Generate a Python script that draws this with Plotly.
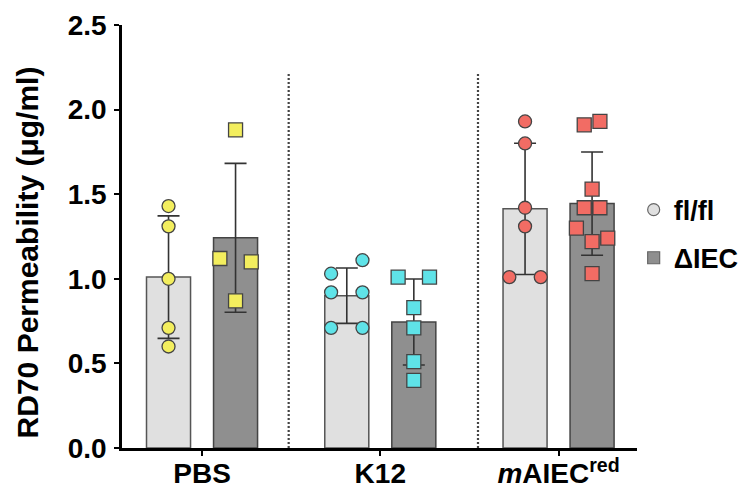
import numpy as np
import plotly.graph_objects as go

# ---------------- data ----------------
categories = ["PBS", "K12", "<i>m</i>AIEC<sup>red</sup>"]
series_names = ["fl/fl", "ΔIEC"]
y_title = "RD70 Permeability (μg/ml)"

pbs_flfl = [1.43, 1.31, 1.00, 0.71, 0.60]
pbs_diec = [1.88, 1.12, 1.10, 0.87]
k12_flfl = [1.11, 1.03, 0.92, 0.92, 0.71, 0.71]
k12_diec = [1.01, 1.01, 0.83, 0.71, 0.51, 0.40]
maiec_flfl = [1.93, 1.80, 1.42, 1.31, 1.01, 1.01]
maiec_diec = [1.91, 1.93, 1.53, 1.42, 1.42, 1.30, 1.24, 1.22, 1.03]

# horizontal scatter columns of each point (in marker half-widths)
pbs_flfl_col = [0, 0, 0, 0, 0]
pbs_diec_col = [0, -2, 2, 0]
k12_flfl_col = [2, -2, -2, 2, -2, 2]
k12_diec_col = [-2, 2, 0, 0, 0, 0]
maiec_flfl_col = [0, 0, 0, 0, -2, 2]
maiec_diec_col = [-1, 1, 0, -1, 1, -2, 2, 0, 0]

y_ticks = [0.0, 0.5, 1.0, 1.5, 2.0, 2.5]

# ---------------- style ----------------
FONT = "Liberation Sans, Arial, sans-serif"
OFF = 0.188      # half distance between paired bars (category units)
BW = 0.247       # bar width
STEP = 0.044     # jitter step
bar_fill = ["#e0e0e0", "#8f8f8f"]
bar_line = ["#555555", "#444444"]
point_colors = ["#f3ee5e", "#5fe3e8", "#f26c64"]
symbols = ["circle", "square"]

groups = [
    (pbs_flfl, pbs_diec, pbs_flfl_col, pbs_diec_col),
    (k12_flfl, k12_diec, k12_flfl_col, k12_diec_col),
    (maiec_flfl, maiec_diec, maiec_flfl_col, maiec_diec_col),
]

fig = go.Figure()

for s in range(2):
    xs, means, sds = [], [], []
    for gi, g in enumerate(groups):
        vals = np.array(g[s])
        xs.append(gi + (2 * s - 1) * OFF)
        means.append(vals.mean())
        sds.append(vals.std(ddof=1))
    fig.add_trace(go.Bar(
        x=xs, y=means, width=BW,
        marker=dict(color=bar_fill[s], line=dict(color=bar_line[s], width=1.5)),
        error_y=dict(type="data", array=sds, visible=True, color="#333333",
                     thickness=1.6, width=11),
        showlegend=False, hoverinfo="skip",
    ))

for gi, g in enumerate(groups):
    for s in range(2):
        vals = g[s]
        cols = g[2 + s]
        x = [gi + (2 * s - 1) * OFF + c * STEP for c in cols]
        fig.add_trace(go.Scatter(
            x=x, y=vals, mode="markers",
            marker=dict(symbol=symbols[s], size=13 if s == 0 else 14,
                        color=point_colors[gi],
                        line=dict(color="#444444", width=1.3)),
            showlegend=False,
        ))

# legend entries
for s in range(2):
    fig.add_trace(go.Scatter(
        x=[None], y=[None], mode="markers", name=series_names[s],
        legendgroup=series_names[s],
        marker=dict(symbol=symbols[s], size=12, color=bar_fill[s],
                    line=dict(color="#666666", width=1.2)),
    ))

# dotted separators
for xs in [0.486, 1.548]:
    fig.add_shape(type="line", x0=xs, x1=xs, y0=0, y1=2.22, xref="x", yref="y",
                  line=dict(color="#444444", width=2.2, dash="2px,2px"), layer="below")

# y-axis title
fig.add_annotation(text=y_title, textangle=-90, xref="paper", yref="paper",
                   x=-0.184, y=0.463, xanchor="center", yanchor="middle",
                   showarrow=False,
                   font=dict(size=30, family=FONT, weight="bold", color="black"))

fig.update_layout(
    width=742, height=496,
    margin=dict(l=122, r=105, t=25, b=48, autoexpand=False),
    plot_bgcolor="white", paper_bgcolor="white",
    font=dict(family=FONT, size=27, color="black", weight="bold"),
    barmode="overlay",
    legend=dict(x=0.854, y=0.528, xref="container", yref="container",
                xanchor="left", yanchor="middle",
                traceorder="grouped", tracegroupgap=10,
                font=dict(size=27, family=FONT, weight="bold"),
                bgcolor="rgba(0,0,0,0)"),
)
fig.update_xaxes(
    range=[-0.449, 2.44], tickvals=[0, 1, 2], ticktext=categories,
    showline=True, linecolor="black", linewidth=2.5,
    ticks="outside", ticklen=5, tickwidth=2, tickcolor="black",
    showgrid=False, zeroline=False, ticklabelstandoff=-6, automargin=False,
    tickfont=dict(size=28, family=FONT, weight="bold"),
)
fig.update_yaxes(
    range=[0, 2.5], tickvals=y_ticks, tickformat=".1f",
    showline=True, linecolor="black", linewidth=2.5,
    ticks="outside", ticklen=5, tickwidth=2, tickcolor="black",
    showgrid=False, zeroline=False, ticklabelstandoff=2, automargin=False,
    tickfont=dict(size=28, family=FONT, weight="bold"),
)

fig.write_html("out.html")
